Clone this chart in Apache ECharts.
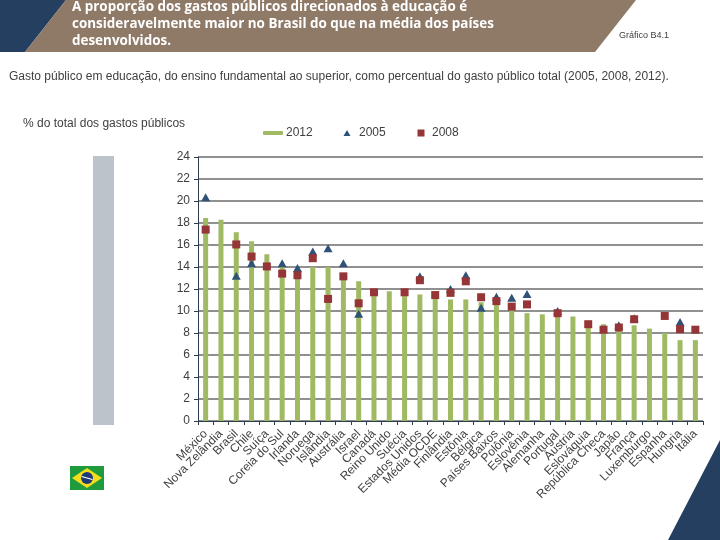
<!DOCTYPE html>
<html><head><meta charset="utf-8">
<style>html,body{margin:0;padding:0;background:#fff}#c{width:720px;height:540px}</style>
<script src="https://cdn.jsdelivr.net/npm/echarts@6/dist/echarts.min.js"></script>
</head><body><div id="c"></div>
<script>
const categories = ['México','Nova Zelândia','Brasil','Chile','Suíça','Coreia do Sul','Irlanda','Noruega','Islândia','Austrália','Israel','Canadá','Reino Unido','Suécia','Estados Unidos','Média OCDE','Finlândia','Estônia','Bélgica','Países Baixos','Polônia','Eslovênia','Alemanha','Portugal','Áustria','Eslováquia','República Checa','Japão','França','Luxemburgo','Espanha','Hungria','Itália'];
const values2012 = [18.45,18.3,17.15,16.35,15.15,14.2,13.5,14.0,14.0,13.0,12.7,11.35,11.8,11.35,11.5,11.3,11.05,11.05,10.8,10.7,10.3,9.8,9.7,9.6,9.5,8.45,8.8,8.2,8.7,8.4,8.0,7.35,7.35];
const values2005 = [20.35,null,13.2,14.35,null,14.35,13.9,15.4,15.7,14.35,9.75,null,null,null,13.15,null,12.0,13.25,10.3,11.3,11.2,11.55,null,10.0,null,null,null,8.7,9.35,null,null,9.0,null];
const values2008 = [17.4,null,16.05,14.95,14.05,13.4,13.25,14.8,11.1,13.15,10.7,11.7,null,11.7,12.8,11.45,11.65,12.7,11.25,10.9,10.4,10.6,null,9.8,null,8.8,8.3,8.5,9.25,null,9.55,8.35,8.3];
const yTicks = {min:0,max:24,interval:2};
const titleLines = ['A proporção dos gastos públicos direcionados à educação é','consideravelmente maior no Brasil do que na média dos países','desenvolvidos.'];
const subtitle = 'Gasto público em educação, do ensino fundamental ao superior, como percentual do gasto público total (2005, 2008, 2012).';

const F = '"Liberation Sans", Arial, sans-serif';
const TF = '"Open Sans", "Liberation Sans", sans-serif';
const textCol = '#404040';
const navy = '#243f60', brown = '#8f7a68';
const chart = echarts.init(document.getElementById('c'), null, {renderer:'canvas'});
function txt(x,y,t,size,fill,weight,fam){return {type:'text',x,y,silent:true,style:{text:t,fill,font:(weight||'normal')+' '+size+'px '+(fam||F),textVerticalAlign:'middle'}};}
chart.setOption({
  animation:false,
  backgroundColor:'#fff',
  grid:{left:198,right:17,top:157,bottom:119,containLabel:false},
  legend:[
    {data:['2012'],left:263,top:127,padding:0,itemWidth:20,itemHeight:4,textStyle:{fontFamily:F,fontSize:12,color:textCol,padding:[0,0,0,-2]}},
    {data:['2005'],left:343.5,top:127,padding:0,itemWidth:7,itemHeight:6,textStyle:{fontFamily:F,fontSize:12,color:textCol,padding:[0,0,0,3.5]}},
    {data:['2008'],left:417.5,top:127,padding:0,itemWidth:7,itemHeight:7,textStyle:{fontFamily:F,fontSize:12,color:textCol,padding:[0,0,0,2.5]}}
  ],
  xAxis:{type:'category',data:categories,boundaryGap:true,
    axisLine:{lineStyle:{color:'#2d3e50',width:1}},
    axisTick:{show:true,alignWithLabel:false,length:4,lineStyle:{color:'#2d3e50'},interval:0},
    axisLabel:{interval:0,rotate:45,fontFamily:F,fontSize:12,color:textCol,margin:11},
    splitLine:{show:false}},
  yAxis:{type:'value',min:yTicks.min,max:yTicks.max,interval:yTicks.interval,
    axisLine:{show:true,lineStyle:{color:'#2d3e50',width:1}},
    axisTick:{show:true,length:4,lineStyle:{color:'#2d3e50'}},
    axisLabel:{fontFamily:F,fontSize:12,color:textCol,margin:8},
    splitLine:{show:true,lineStyle:{color:'#909090',width:2}}},
  series:[
    {name:'2012',type:'bar',data:values2012,barWidth:5,itemStyle:{color:'#a0b963'},z:2},
    {name:'2005',type:'scatter',data:values2005,symbol:'triangle',symbolSize:[9,8],itemStyle:{color:'#2f5277',opacity:1},z:3},
    {name:'2008',type:'scatter',data:values2008,symbol:'rect',symbolSize:8,itemStyle:{color:'#953537',opacity:1},z:4}
  ],
  graphic:[
    {type:'polygon',silent:true,shape:{points:[[0,0],[66,0],[25,52],[0,52]]},style:{fill:navy}},
    {type:'polygon',silent:true,shape:{points:[[66,0],[636,0],[595,52],[25,52]]},style:{fill:brown}},
    {type:'polygon',silent:true,shape:{points:[[720,440],[720,540],[668,540]]},style:{fill:navy}},
    {type:'rect',silent:true,shape:{x:93,y:156,width:21,height:269},style:{fill:'#bcc3ca'}},
    {type:'rect',silent:true,shape:{x:70,y:466,width:34,height:24},style:{fill:'#1f9a3c'}},
    {type:'polygon',silent:true,shape:{points:[[87,468],[102,478],[87,488],[72,478]]},style:{fill:'#f4dd1c'}},
    {type:'circle',silent:true,shape:{cx:87,cy:478,r:6},style:{fill:'#1d3a78'}},
    {type:'line',silent:true,shape:{x1:81.5,y1:476.5,x2:92.5,y2:479.5},style:{stroke:'#ffffff',lineWidth:1.2}},
    txt(72,7,titleLines[0],13.45,'#ffffff','bold',TF),
    txt(72,24,titleLines[1],13.45,'#ffffff','bold',TF),
    txt(72,41,titleLines[2],13.45,'#ffffff','bold',TF),
    txt(619,36,'Gráfico B4.1',9,textCol),
    txt(9,77,subtitle,12,textCol),
    txt(23,124,'% do total dos gastos públicos',12,textCol)
  ]
});
</script></body></html>
